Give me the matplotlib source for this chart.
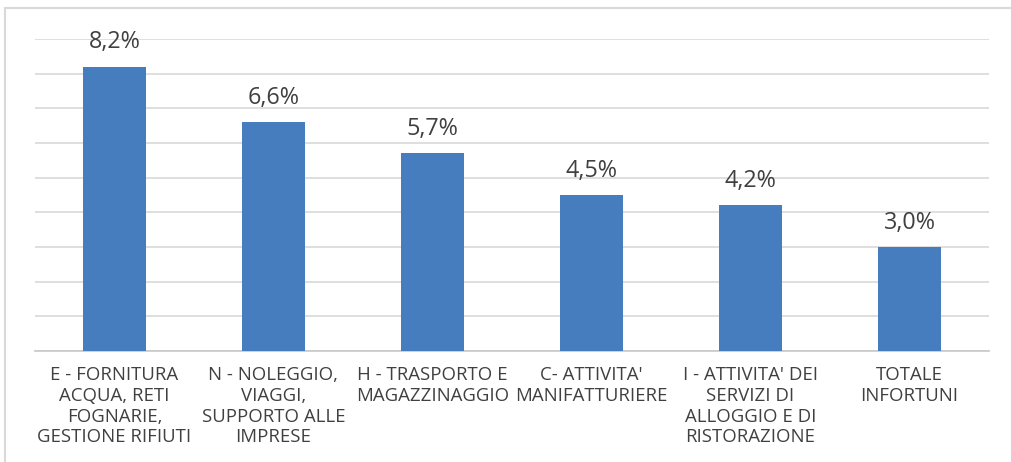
import matplotlib.pyplot as plt
from matplotlib.lines import Line2D

# Settori e quota infortuni (%)
categories = [
    "E - FORNITURA\nACQUA, RETI\nFOGNARIE,\nGESTIONE RIFIUTI",
    "N - NOLEGGIO,\nVIAGGI,\nSUPPORTO ALLE\nIMPRESE",
    "H - TRASPORTO E\nMAGAZZINAGGIO",
    "C- ATTIVITA'\nMANIFATTURIERE",
    "I - ATTIVITA' DEI\nSERVIZI DI\nALLOGGIO E DI\nRISTORAZIONE",
    "TOTALE\nINFORTUNI",
]
values = [8.2, 6.6, 5.7, 4.5, 4.2, 3.0]

plt.rcParams['font.family'] = ['Open Sans', 'DejaVu Sans']
text_color = '#404040'
grid_color = '#d9d9d9'

W, H = 1011, 462
fig = plt.figure(figsize=(W / 100, H / 100), dpi=100)
ax = fig.add_axes([35 / W, 1 - 351 / H, (989 - 35) / W, (351 - 39) / H])

x = range(len(values))
ax.bar(x, values, width=0.40, color='#467dbe', zorder=3)

for i, v in enumerate(values):
    ax.annotate(f"{v:.1f}".replace('.', ',') + '%', (i, v),
                xytext=(0, 9), textcoords='offset points',
                ha='center', va='bottom', fontsize=16.8, color=text_color)

ax.set_xlim(-0.5, len(values) - 0.5)
ax.set_ylim(0, 9)
ax.set_yticks(range(0, 10))
ax.set_yticklabels([])
ax.tick_params(axis='y', length=0)
ax.yaxis.grid(True, color=grid_color, linewidth=1.2, zorder=0)
ax.set_xticks(list(x))
ax.set_xticklabels(categories, fontsize=13.4, color=text_color, linespacing=1.19)
ax.tick_params(axis='x', length=0, pad=11)
for s in ['top', 'right', 'left']:
    ax.spines[s].set_visible(False)
ax.spines['bottom'].set_color('#c8c8c8')
ax.spines['bottom'].set_linewidth(1.2)

# cornice del grafico
fig.add_artist(Line2D([5 / W, 5 / W], [0, 1 - 8 / H], color=grid_color, lw=1.5))
fig.add_artist(Line2D([5 / W, 1], [1 - 8 / H, 1 - 8 / H], color=grid_color, lw=1.5))

plt.savefig('out.png', dpi=100)
